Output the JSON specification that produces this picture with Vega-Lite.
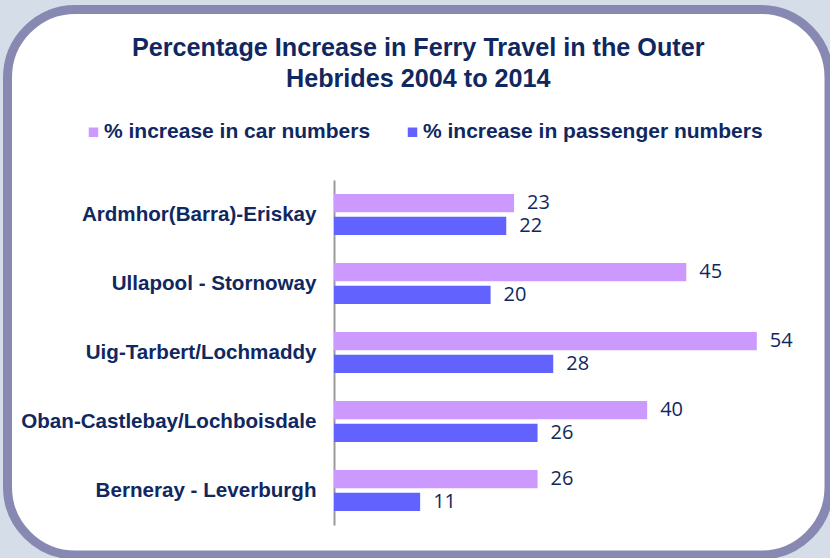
{
  "$schema": "https://vega.github.io/schema/vega-lite/v6.json",
  "autosize": {"type": "none"},
  "width": 821.5,
  "height": 545.5,
  "padding": {"left": 7.5, "top": 9.5, "right": 1, "bottom": 3},
  "background": "#d5dee8",
  "config": {
    "view": {"fill": "white", "stroke": "#8789b3", "strokeWidth": 9, "cornerRadius": 68},
    "font": "Liberation Sans"
  },
  "title": {
    "text": ["Percentage Increase in Ferry Travel in the Outer", "Hebrides 2004 to 2014"],
    "font": "Liberation Sans",
    "fontSize": 25.2,
    "fontWeight": "bold",
    "color": "#10285f",
    "anchor": "middle",
    "frame": "group",
    "baseline": "alphabetic",
    "offset": -102.5,
    "lineHeight": 31
  },
  "data": {
    "values": [
      {"route": "Ardmhor(Barra)-Eriskay", "series": "% increase in car numbers", "value": 23},
      {"route": "Ardmhor(Barra)-Eriskay", "series": "% increase in passenger numbers", "value": 22},
      {"route": "Ullapool - Stornoway", "series": "% increase in car numbers", "value": 45},
      {"route": "Ullapool - Stornoway", "series": "% increase in passenger numbers", "value": 20},
      {"route": "Uig-Tarbert/Lochmaddy", "series": "% increase in car numbers", "value": 54},
      {"route": "Uig-Tarbert/Lochmaddy", "series": "% increase in passenger numbers", "value": 28},
      {"route": "Oban-Castlebay/Lochboisdale", "series": "% increase in car numbers", "value": 40},
      {"route": "Oban-Castlebay/Lochboisdale", "series": "% increase in passenger numbers", "value": 26},
      {"route": "Berneray - Leverburgh", "series": "% increase in car numbers", "value": 26},
      {"route": "Berneray - Leverburgh", "series": "% increase in passenger numbers", "value": 11}
    ]
  },
  "encoding": {
    "y": {
      "field": "route",
      "type": "nominal",
      "sort": null,
      "scale": {"range": [170.5, 515.5], "paddingInner": 0.406, "paddingOuter": 0.203},
      "axis": {
        "title": null,
        "orient": "left",
        "offset": -326.5,
        "ticks": false,
        "labelPadding": 18,
        "labelFont": "Liberation Sans",
        "labelFontSize": 20.6,
        "labelFontWeight": "bold",
        "labelColor": "#10285f",
        "labelLimit": 400,
        "domainColor": "#9a9a9a",
        "domainWidth": 2,
        "grid": false
      }
    },
    "yOffset": {
      "field": "series",
      "type": "nominal",
      "sort": ["% increase in car numbers", "% increase in passenger numbers"],
      "scale": {"paddingInner": 0.2, "paddingOuter": 0}
    },
    "x": {
      "field": "value",
      "type": "quantitative",
      "scale": {"domain": [0, 54], "range": [326.5, 749.3], "nice": false, "zero": true},
      "axis": null
    }
  },
  "layer": [
    {
      "mark": {"type": "bar"},
      "encoding": {
        "color": {
          "field": "series",
          "type": "nominal",
          "scale": {
            "domain": ["% increase in car numbers", "% increase in passenger numbers"],
            "range": ["#cc99ff", "#6262ff"]
          },
          "legend": {
            "title": null,
            "orient": "none",
            "legendX": 75.5,
            "legendY": 112,
            "direction": "horizontal",
            "symbolType": "square",
            "symbolSize": 90,
            "symbolStrokeWidth": 0,
            "labelFont": "Liberation Sans",
            "labelFontSize": 21,
            "labelFontWeight": "bold",
            "labelColor": "#10285f",
            "labelOffset": 0,
            "labelLimit": 500,
            "columnPadding": 31
          }
        }
      }
    },
    {
      "mark": {"type": "text", "align": "left", "baseline": "middle", "dx": 13, "font": "Open Sans", "fontSize": 20, "color": "#10285f"},
      "encoding": {
        "text": {"field": "value", "type": "quantitative"}
      }
    }
  ]
}
